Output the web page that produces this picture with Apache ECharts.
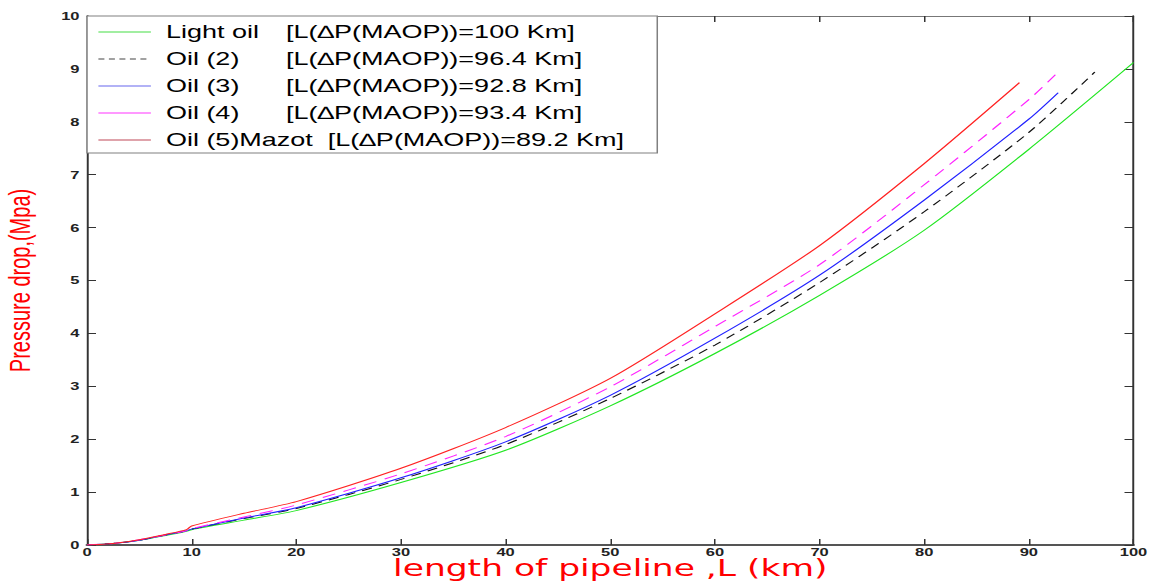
<!DOCTYPE html>
<html>
<head>
<meta charset="utf-8">
<script src="https://cdn.jsdelivr.net/npm/echarts@6/dist/echarts.min.js"></script>
<style>
  html, body { margin: 0; padding: 0; background: #fff; overflow: hidden; }
  #wrap { width: 1151px; height: 581px; overflow: hidden; position: relative; }
  #chart { position: absolute; left: 0; top: 0; width: 767.33px; height: 581px;
           transform: scaleX(1.5); transform-origin: 0 0; }
</style>
</head>
<body>
<div id="wrap"><div id="chart"></div></div>
<script>
// ---- data ----
const lengthKm = [0, 2.5, 5, 7.5, 9.5, 10, 15, 20, 30, 40, 50, 60, 70, 80, 90];
const lightOil = [0, 0.03, 0.09, 0.18, 0.26, 0.29, 0.47, 0.65, 1.18, 1.79, 2.63, 3.62, 4.72, 5.95, 7.48];
const oil2     = [0, 0.03, 0.09, 0.19, 0.27, 0.30, 0.50, 0.69, 1.24, 1.90, 2.77, 3.78, 4.96, 6.30, 7.80];
const oil3     = [0, 0.03, 0.09, 0.19, 0.27, 0.30, 0.51, 0.705, 1.27, 1.95, 2.83, 3.91, 5.10, 6.52, 8.05];
const oil4     = [0, 0.03, 0.10, 0.19, 0.27, 0.31, 0.53, 0.756, 1.345, 2.05, 2.99, 4.13, 5.30, 6.81, 8.42];
const oil5     = [0, 0.03, 0.10, 0.20, 0.29, 0.36, 0.60, 0.82, 1.45, 2.22, 3.15, 4.37, 5.66, 7.21, null];
const endKm    = [100, 96.3, 92.8, 92.8, 89.1];
const endMpa   = [9.12, 8.94, 8.55, 8.94, 8.74];
const oilNames = ['Light oil', 'Oil (2)', 'Oil (3)', 'Oil (4)', 'Oil (5)Mazot'];
const maopKm   = ['100', '96.4', '92.8', '93.4', '89.2'];

const allValues = [lightOil, oil2, oil3, oil4, oil5];
const lineColors = ['#22e622', '#111111', '#2222ff', '#ff22ff', '#ff2222'];
const lineTypes = ['solid', [7, 5], 'solid', [9, 6], 'solid'];
const legendColors = ['#44dd44', '#444444', '#6666ee', '#ff33ff', '#c04858'];
const legendTypes = ['solid', [4, 3], 'solid', 'solid', 'solid'];

function buildData(vals, k) {
  const pts = [];
  lengthKm.forEach((x, j) => {
    if (vals[j] != null && x < endKm[k]) pts.push([x, vals[j]]);
  });
  pts.push([endKm[k], endMpa[k]]);
  return pts;
}

const series = oilNames.map((n, k) => ({
  name: n,
  type: 'line',
  data: buildData(allValues[k], k),
  symbol: 'none',
  smooth: 0.25,
  color: lineColors[k],
  lineStyle: { color: lineColors[k], width: 1, type: lineTypes[k] },
  itemStyle: { color: lineColors[k] },
  xAxisIndex: 0, yAxisIndex: 0,
  z: 2
}));

const font = 'Liberation Sans, Arial, sans-serif';
const chart = echarts.init(document.getElementById('chart'), null, { renderer: 'svg' });
chart.setOption({
  backgroundColor: '#fff',
  animation: false,
  grid: { left: 58, right: 11.33, top: 16, bottom: 36, containLabel: false, outerBoundsMode: 'none' },
  legend: {
    orient: 'vertical',
    left: 58, top: 16,
    padding: [7, 22, 4, 7],
    itemWidth: 35, itemHeight: 14, itemGap: 9.0,
    backgroundColor: '#fff',
    borderColor: '#808080', borderWidth: 1,
    z: 5,
    data: oilNames.map((n, k) => ({
      name: n,
      itemStyle: { color: 'rgba(0,0,0,0)', borderColor: 'rgba(0,0,0,0)', borderWidth: 0 },
      lineStyle: { color: legendColors[k], width: 1.2, type: legendTypes[k], opacity: 1 }
    })),
    formatter: name => {
      const k = oilNames.indexOf(name);
      const tail = '[L(\u2206P(MAOP))=' + maopKm[k] + ' Km]';
      return k < 4 ? '{a|' + name + '}{b|' + tail + '}' : '{b|' + name + '  ' + tail + '}';
    },
    textStyle: {
      color: '#000', fontFamily: font, fontSize: 18, padding: [0, 0, 0, 5],
      rich: {
        a: { width: 80, fontSize: 18, fontFamily: font, color: '#000' },
        b: { fontSize: 18, fontFamily: font, color: '#000' }
      }
    }
  },
  xAxis: [{
    type: 'value', position: 'bottom', min: 0, max: 100, interval: 10,
    name: 'length of pipeline ,L (km)', nameLocation: 'middle', nameGap: 12,
    nameMoveOverlap: false,
    nameTextStyle: { color: '#ff0000', fontSize: 23, lineHeight: 22, fontFamily: 'DejaVu Sans, sans-serif', verticalAlign: 'top' },
    axisLine: { show: true, onZero: false, lineStyle: { color: '#555', width: 2 } },
    axisTick: { show: true, inside: true, length: 6, lineStyle: { color: '#333', width: 1 } },
    axisLabel: { color: '#222', fontWeight: 'bold', fontSize: 11, lineHeight: 10, fontFamily: font, margin: 2 },
    splitLine: { show: false }
  }, {
    type: 'value', position: 'top', min: 0, max: 100, interval: 10,
    axisLine: { show: true, onZero: false, lineStyle: { color: '#777', width: 1 } },
    axisTick: { show: true, inside: true, length: 6, lineStyle: { color: '#333', width: 1 } },
    axisLabel: { show: false }, splitLine: { show: false }
  }],
  yAxis: [{
    type: 'value', position: 'left', min: 0, max: 10, interval: 1,
    name: 'Pressure drop,(Mpa)', nameLocation: 'middle', nameGap: 35, nameRotate: 90,
    nameMoveOverlap: false,
    nameTextStyle: { color: '#ff0000', fontSize: 20, fontFamily: font },
    axisLine: { show: true, onZero: false, lineStyle: { color: '#333', width: 1.3 } },
    axisTick: { show: true, inside: true, length: 6, lineStyle: { color: '#333', width: 1 } },
    axisLabel: { color: '#222', fontWeight: 'bold', fontSize: 11, fontFamily: font, margin: 5 },
    splitLine: { show: false }
  }, {
    type: 'value', position: 'right', min: 0, max: 10, interval: 1,
    axisLine: { show: true, onZero: false, lineStyle: { color: '#333', width: 1.3 } },
    axisTick: { show: true, inside: true, length: 6, lineStyle: { color: '#333', width: 1 } },
    axisLabel: { show: false }, splitLine: { show: false }
  }],
  series: series
});
</script>
</body>
</html>
